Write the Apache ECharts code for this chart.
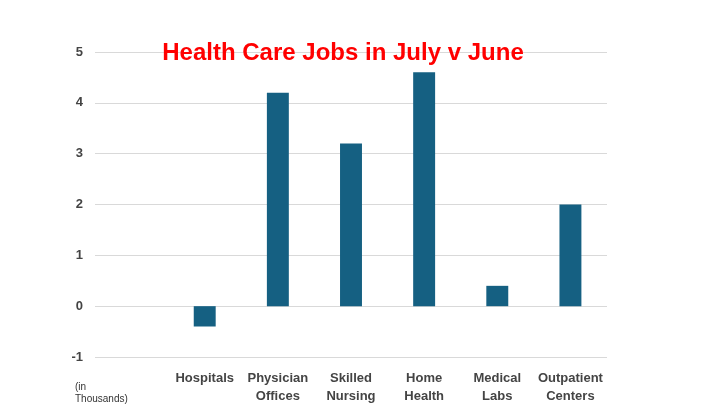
<!DOCTYPE html>
<html><head><meta charset="utf-8">
<script src="https://cdn.jsdelivr.net/npm/echarts@6/dist/echarts.min.js"></script>
<style>html,body{margin:0;padding:0;background:#fff}#c{width:720px;height:405px}</style>
</head><body><div id="c"></div>
<script>
const categories = ["", "Hospitals", "Physician\nOffices", "Skilled\nNursing", "Home\nHealth", "Medical\nLabs", "Outpatient\nCenters"];
const values = [null, -0.4, 4.2, 3.2, 4.6, 0.4, 2.0];
const yTicks = [-1, 0, 1, 2, 3, 4, 5];
const chart = echarts.init(document.getElementById('c'));
chart.setOption({
  animation: false,
  title: {text: "Health Care Jobs in July v June", left: 338, top: 36, textAlign: 'center',
    textStyle: {color: '#ff0000', fontSize: 24, fontWeight: 'bold', fontFamily: 'Liberation Sans'}},
  graphic: [{type: 'text', left: 75, top: 381,
    style: {text: "(in\nThousands)", fontSize: 10, fill: '#333', fontFamily: 'Liberation Sans', lineHeight: 12}}],
  grid: {left: 95, right: 113, top: 52, bottom: 42},
  xAxis: {type: 'category', data: categories,
    axisLine: {show: false}, axisTick: {show: false},
    axisLabel: {interval: 0, fontSize: 13, fontWeight: 'bold', color: '#444', lineHeight: 18,
      fontFamily: 'Liberation Sans', margin: 12},
    position: 'bottom', offset: 0},
  yAxis: {type: 'value', min: yTicks[0], max: yTicks[yTicks.length-1], interval: 1,
    axisLine: {show: false}, axisTick: {show: false},
    axisLabel: {fontSize: 13, fontWeight: 'bold', color: '#444', margin: 12, fontFamily: 'Liberation Sans'},
    splitLine: {lineStyle: {color: '#d9d9d9'}}},
  series: [{type: 'bar', data: values, barWidth: '30%', itemStyle: {color: '#156082'}}]
});
</script></body></html>
